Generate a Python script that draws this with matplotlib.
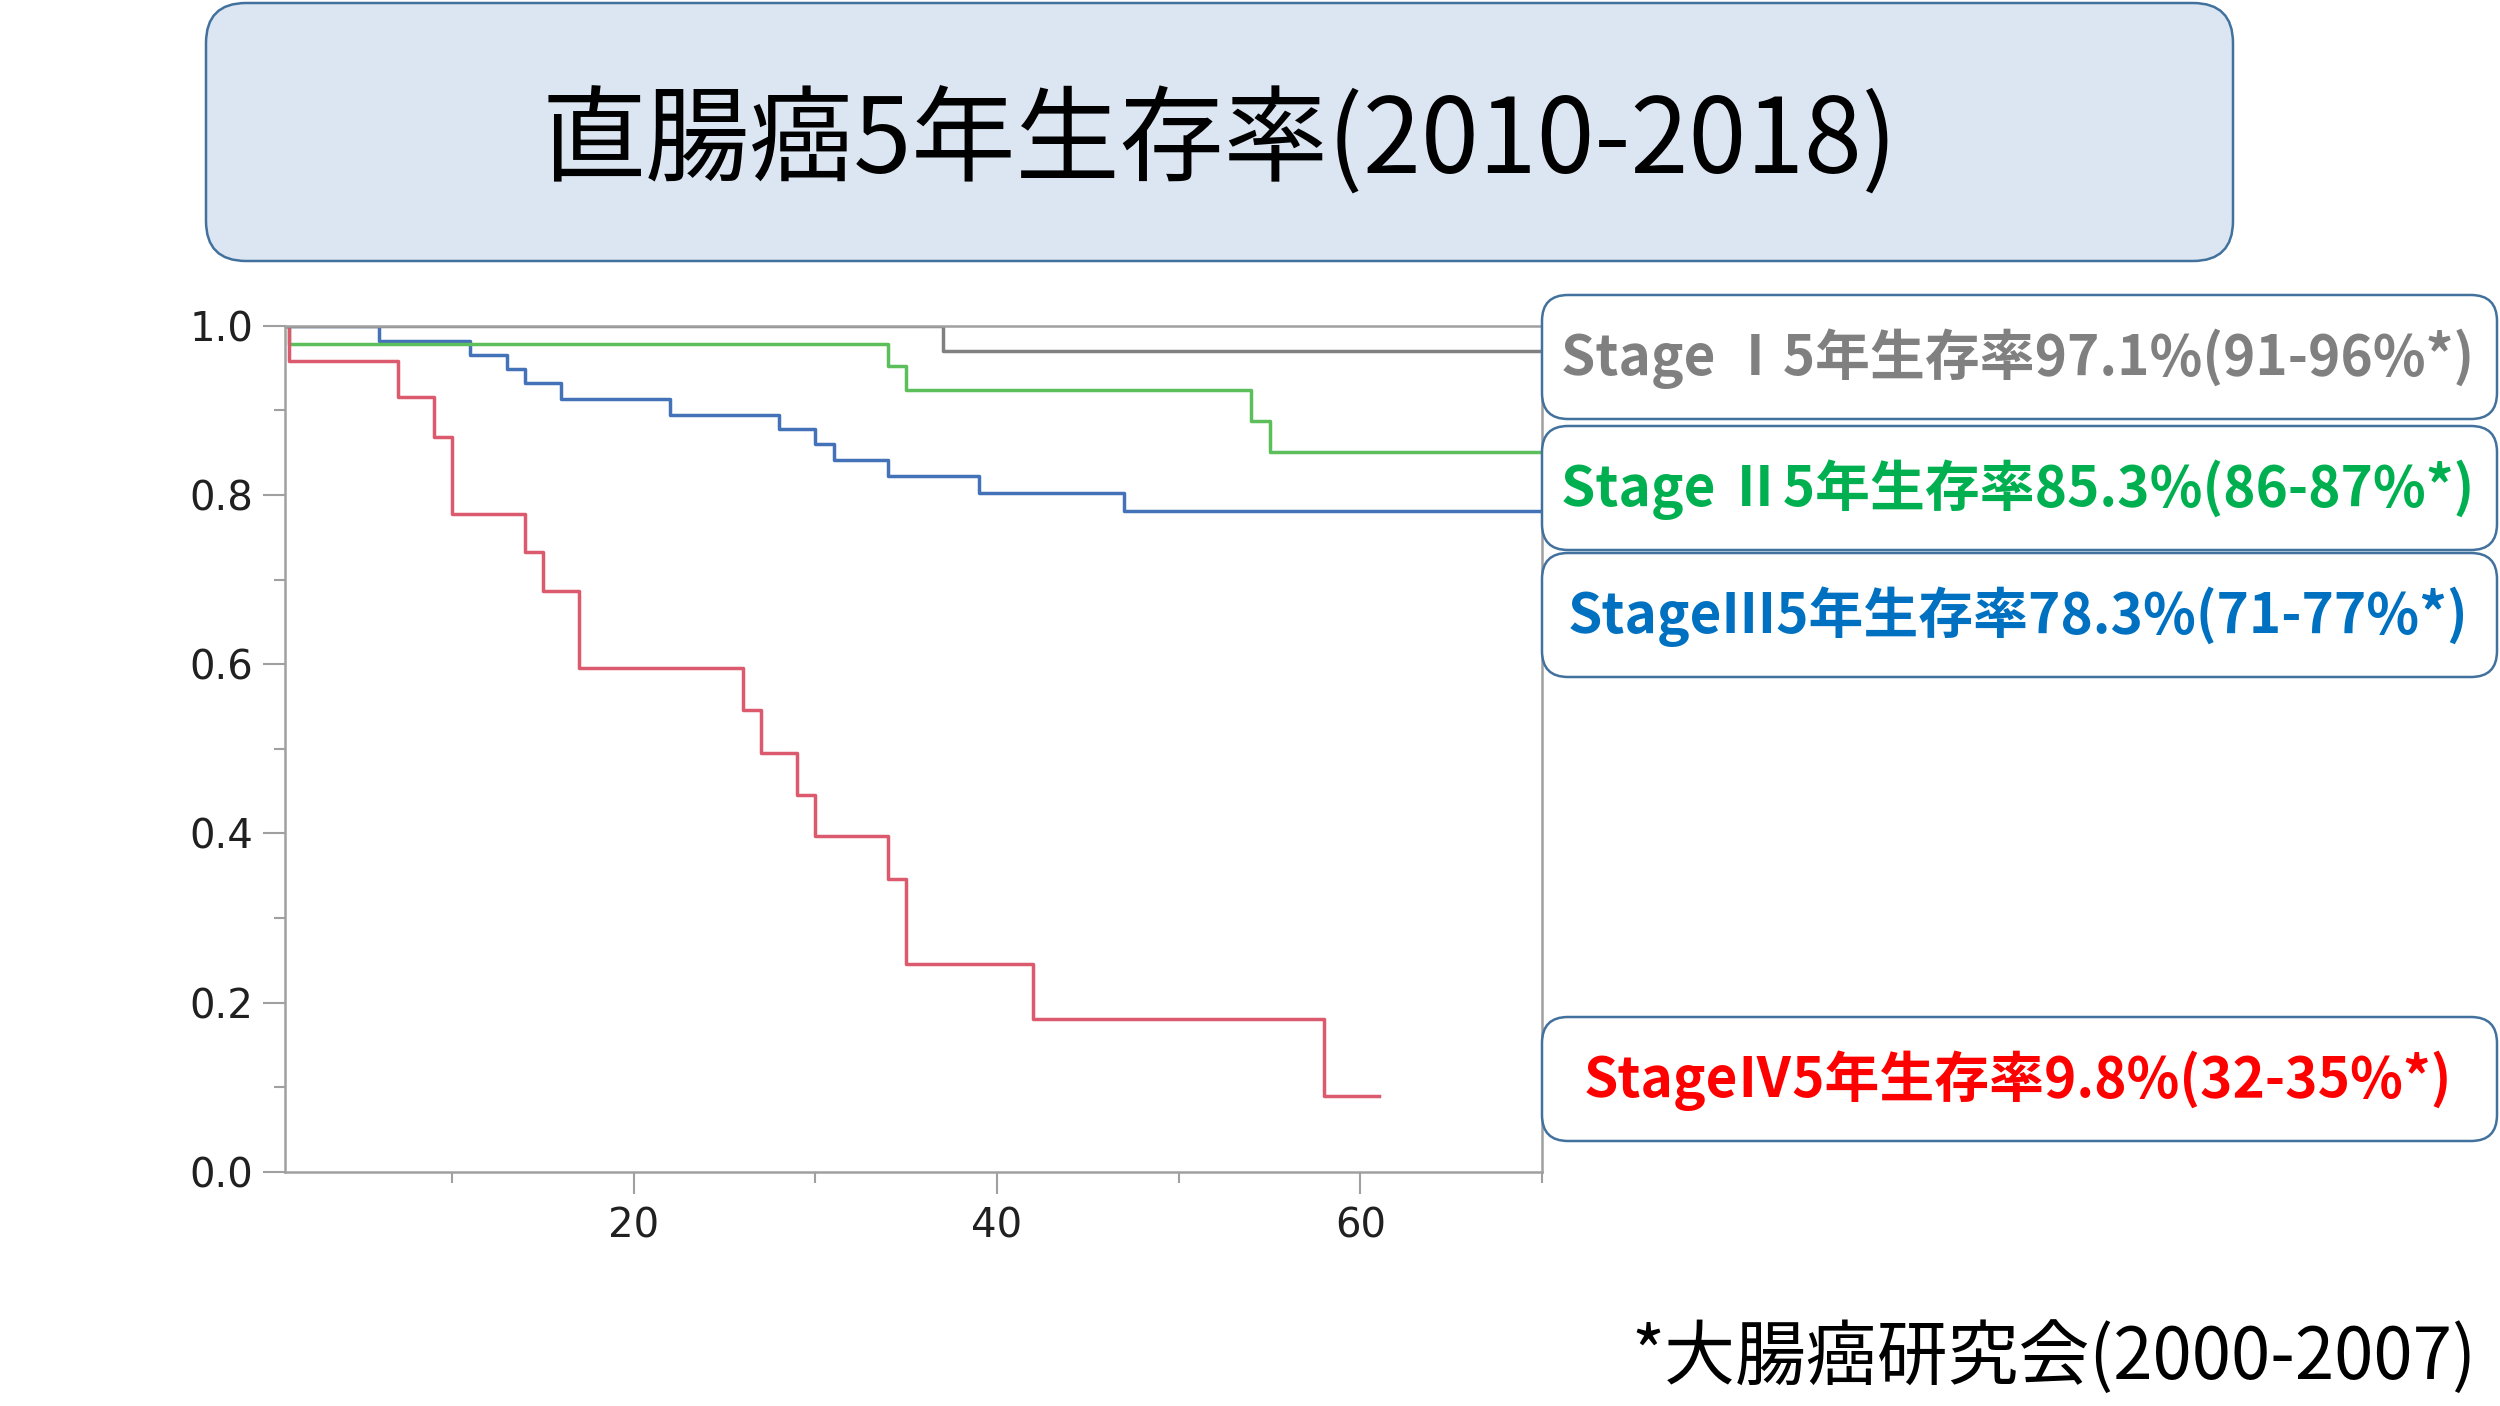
import matplotlib
matplotlib.use("Agg")
import matplotlib.pyplot as plt
from matplotlib.patches import FancyBboxPatch

plt.rcParams['font.family'] = ['Noto Sans CJK JP', 'DejaVu Sans']

# survival curves (months, survival)
stage1_t = [0, 37, 70]
stage1_s = [1.0, 0.970, 0.970]

stage2_t = [0, 1, 34, 35, 54, 55, 70]
stage2_s = [1.0, 0.978, 0.953, 0.924, 0.887, 0.851, 0.851]

stage3_t = [0, 6, 11, 13, 14, 16, 22, 28, 30, 31, 34, 39, 47, 70]
stage3_s = [1.0, 0.982, 0.965, 0.949, 0.932, 0.913, 0.895, 0.878, 0.860, 0.841, 0.822, 0.802, 0.781, 0.781]

stage4_t = [0, 1, 7, 9, 10, 14, 15, 17, 26, 27, 29, 30, 34, 35, 42, 58, 61]
stage4_s = [1.0, 0.958, 0.916, 0.869, 0.777, 0.732, 0.686, 0.595, 0.546, 0.495, 0.445, 0.397, 0.346, 0.246, 0.181, 0.089, 0.089]

title = "直腸癌5年生存率(2010-2018)"
labels = ["Stage Ⅰ5年生存率97.1%(91-96%*)",
          "Stage Ⅱ5年生存率85.3%(86-87%*)",
          "StageⅢ5年生存率78.3%(71-77%*)",
          "StageⅣ5年生存率9.8%(32-35%*)"]
label_colors = ["#808080", "#00b050", "#0070c0", "#ff0000"]
footnote = "*大腸癌研究会(2000-2007)"

fig = plt.figure(figsize=(25, 14.06), dpi=100)

ax = fig.add_axes([0.114, 0.1666, 0.5028, 0.6017])
ax.step(stage3_t, stage3_s, where='post', color="#4472b8", lw=2.5)
ax.step(stage2_t, stage2_s, where='post', color="#5cbf5c", lw=2.5)
ax.step(stage4_t, stage4_s, where='post', color="#dc5a6e", lw=2.5)
ax.step(stage1_t, stage1_s, where='post', color="#808080", lw=2.5)

ax.set_xlim(0.8, 70)
ax.set_ylim(0, 1.0)
ax.set_xticks([20, 40, 60])
ax.set_xticks([10, 30, 50, 70], minor=True)
ax.set_yticks([0, 0.2, 0.4, 0.6, 0.8, 1.0])
ax.set_yticklabels(["0.0", "0.2", "0.4", "0.6", "0.8", "1.0"])
ax.set_yticks([0.1, 0.3, 0.5, 0.7, 0.9], minor=True)
for lab in ax.get_xticklabels() + ax.get_yticklabels():
    lab.set_family("DejaVu Sans")
ax.tick_params(which='major', direction='out', length=16, width=1.5,
               color="#a0a0a0", labelsize=29, labelcolor="#202020", pad=7)
ax.tick_params(which='minor', direction='out', length=8, width=1.5, color="#a0a0a0")
ax.tick_params(axis='x', which='major', pad=9)
for sp in ax.spines.values():
    sp.set_color("#a0a0a0")
    sp.set_linewidth(1.8)

# overlay in pixel coordinates for the boxes and texts
ov = fig.add_axes([0, 0, 1, 1])
ov.set_xlim(0, 2500)
ov.set_ylim(1406, 0)
ov.axis('off')
ov.patch.set_alpha(0)

ov.add_patch(FancyBboxPatch((206, 3), 2027, 258,
                            boxstyle="round,pad=0,rounding_size=40",
                            fc="#dce6f2", ec="#41719c", lw=1.8))
ov.text(1220, 142, title, fontsize=75, ha='center', va='center', color="black")

box_tops = [295, 426, 553, 1017]
for top, txt, col in zip(box_tops, labels, label_colors):
    ov.add_patch(FancyBboxPatch((1542, top), 955, 124,
                                boxstyle="round,pad=0,rounding_size=26",
                                fc="white", ec="#41719c", lw=1.8))
    ov.text(2018, top + 64, txt, fontsize=39.5, fontweight='bold',
            ha='center', va='center', color=col)

ov.text(2476, 1358, footnote, fontsize=51, ha='right', va='center', color="black")

fig.savefig("out.png", dpi=100)
